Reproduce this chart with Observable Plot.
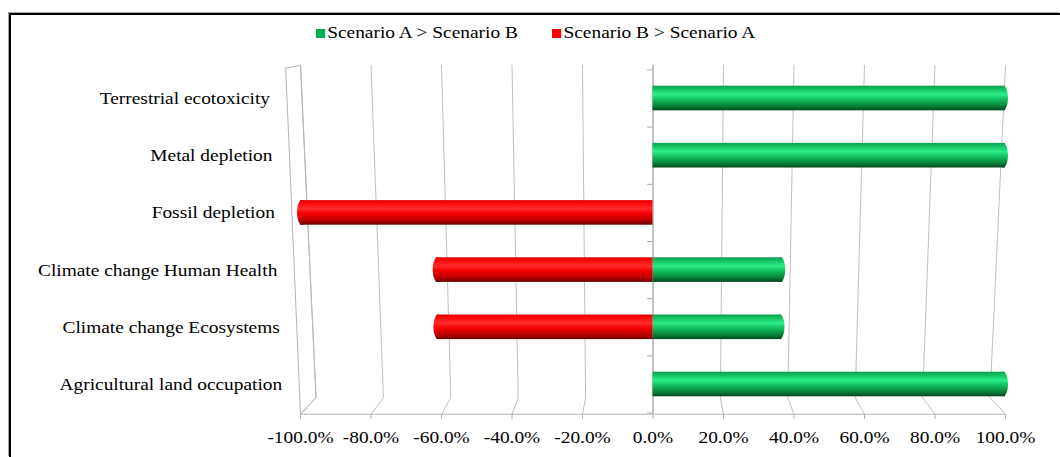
<!DOCTYPE html>
<html>
<head>
<meta charset="utf-8">
<script src="https://cdn.jsdelivr.net/npm/d3@7"></script>
<script src="https://cdn.jsdelivr.net/npm/@observablehq/plot@0.6"></script>
<style>
  html, body { margin: 0; padding: 0; background: #fff; }
  #frame {
    position: absolute; left: 9px; top: 13px;
    width: 1049px; height: 442px;
    border-top: 2px solid #000; border-left: 2px solid #000;
    box-shadow: -1px -1px 0 #a0a0a0;
    overflow: hidden;
    font-family: "Liberation Serif", "Times New Roman", serif;
    color: #000;
  }
  #legend {
    height: 36px; display: flex; justify-content: center; align-items: center;
    font-size: 17px; transform: scaleX(1.14); transform-origin: center;
  }
  .item { display: flex; align-items: center; margin: 0 15px; }
  .swatch { width: 8px; height: 9px; margin-right: 2px; }
  svg { display: block; }
</style>
</head>
<body>
<div id="frame">
  <div id="legend"></div>
  <div id="chart"></div>
</div>
<script>
// Impact categories, top to bottom
const categories = [
  "Terrestrial ecotoxicity",
  "Metal depletion",
  "Fossil depletion",
  "Climate change Human Health",
  "Climate change Ecosystems",
  "Agricultural land occupation"
];
// Share where Scenario A > Scenario B (positive side)
const scenarioA = [1.0, 1.0, 0, 0.368, 0.366, 1.0];
// Share where Scenario B > Scenario A (negative side)
const scenarioB = [0, 0, -1.0, -0.615, -0.613, 0];
// Axis ticks
const xTicks = [-1, -0.8, -0.6, -0.4, -0.2, 0, 0.2, 0.4, 0.6, 0.8, 1];
const seriesNames = ["Scenario A > Scenario B", "Scenario B > Scenario A"];

// Legend
const legendColors = ["#00b050", "#ff0000"];
const legend = document.getElementById("legend");
seriesNames.forEach((name, i) => {
  const item = document.createElement("div");
  item.className = "item";
  item.innerHTML = `<span class="swatch" style="background:${legendColors[i]}"></span><span>${name}</span>`;
  legend.appendChild(item);
});

// Pseudo-3D frame: back wall from WALL_TOP to WALL_BOTTOM (row units), floor strip to FRONT
const WALL_TOP = -0.58, WALL_BOTTOM = 5.23, FRONT = 5.52;
const SHRINK = 0.044;      // perspective narrowing at the foot of the back wall
const WALL_DEPTH = 0.042;  // thickness of the left side wall
const HALF = 0.215;        // half thickness of a cylinder, row units

const bars = [];
categories.forEach((c, i) => {
  if (scenarioA[i] !== 0) bars.push({row: i, value: scenarioA[i], series: "A"});
  if (scenarioB[i] !== 0) bars.push({row: i, value: scenarioB[i], series: "B"});
});

const grid = xTicks.flatMap(t => [
  {t, x: t, y: WALL_TOP},
  {t, x: t * (1 - SHRINK), y: WALL_BOTTOM},
  {t, x: t, y: FRONT}
]);
const wallTopOuter = WALL_TOP + 0.05;
const wall = [
  {x: -1 - WALL_DEPTH, y: wallTopOuter},
  {x: -1, y: WALL_TOP},
  {x: -(1 - SHRINK), y: WALL_BOTTOM},
  {x: -1, y: FRONT},
  {x: -1 - WALL_DEPTH, y: wallTopOuter}
];
const outerX = r => -1 - WALL_DEPTH * (FRONT - r) / (FRONT - wallTopOuter);
const boundaries = d3.range(categories.length + 1).map(k => k - 0.5);

// A cylinder: flat body from zero to the value, rounded cap bulging past the outer end
const cylinder = (series, url, outwardRight) => [
  Plot.rectX(bars, {filter: d => d.series === series, x1: 0, x2: "value",
    y1: d => d.row - HALF, y2: d => d.row + HALF, fill: url}),
  Plot.rectX(bars, {filter: d => d.series === series, x1: "value", x2: "value",
    insetLeft: outwardRight ? -7 : -3, insetRight: outwardRight ? -3 : -7,
    y1: d => d.row - HALF, y2: d => d.row + HALF, fill: url, rx: 5, ry: 12})
];

const svg = Plot.plot({
  width: 1049,
  height: 406,
  marginLeft: 289,
  marginRight: 55,
  marginTop: 14,
  marginBottom: 43,
  style: {fontFamily: "Liberation Serif, Times New Roman, serif", fontSize: "17px", color: "#000", background: "transparent"},
  x: {domain: [-1, 1]},
  y: {domain: [-0.5, 5.5], range: [18.4, 361.6], axis: null},
  marks: [
    Plot.line(grid, {x: "x", y: "y", z: "t", stroke: "#c0c0c0", strokeWidth: 1}),
    Plot.line(wall, {x: "x", y: "y", stroke: "#b5b5b5", strokeWidth: 1}),
    Plot.ruleY([FRONT], {x1: -1, x2: 1, stroke: "#b5b5b5"}),
    Plot.ruleX([0], {y1: WALL_TOP, y2: FRONT, stroke: "#a8a8a8"}),
    Plot.ruleY(boundaries, {x1: -0.015, x2: 0, stroke: "#a8a8a8"}),
    ...cylinder("A", "url(#cylA)", true),
    ...cylinder("B", "url(#cylB)", false),
    Plot.text(categories, {x: (d, i) => outerX(i), y: (d, i) => i, text: d => d,
      textAnchor: "end", dx: -17, fontSize: 17, fill: "#000"}),
    Plot.axisX(xTicks, {tickSize: 5, tickPadding: 11, fontSize: 17, stroke: "#b5b5b5", fill: "#000",
      tickFormat: d => (d * 100).toFixed(1) + "%"})
  ]
});

// Cylinder shading
const defs = d3.select(svg).insert("defs", ":first-child");
function gradient(id, stops) {
  const g = defs.append("linearGradient").attr("id", id)
    .attr("x1", 0).attr("y1", 0).attr("x2", 0).attr("y2", 1);
  stops.forEach(([o, c]) => g.append("stop").attr("offset", o).attr("stop-color", c));
}
gradient("cylA", [[0, "#0a9e4c"], [0.15, "#14c465"], [0.35, "#2ded86"], [0.55, "#12c062"], [0.8, "#07883d"], [1, "#03471f"]]);
gradient("cylB", [[0, "#e00000"], [0.15, "#ff0d0d"], [0.35, "#ff2a2a"], [0.55, "#f50000"], [0.8, "#c00000"], [1, "#6e0000"]]);

// Slightly wide serif lettering
d3.select(svg).selectAll("text").each(function() {
  const t = this.getAttribute("transform");
  if (t) this.setAttribute("transform", t + " scale(1.14,1)");
  else {
    const x = +this.getAttribute("x") || 0, y = +this.getAttribute("y") || 0;
    this.setAttribute("transform", `translate(${x},${y}) scale(1.14,1) translate(${-x},${-y})`);
  }
});

document.getElementById("chart").appendChild(svg);
</script>
</body>
</html>
